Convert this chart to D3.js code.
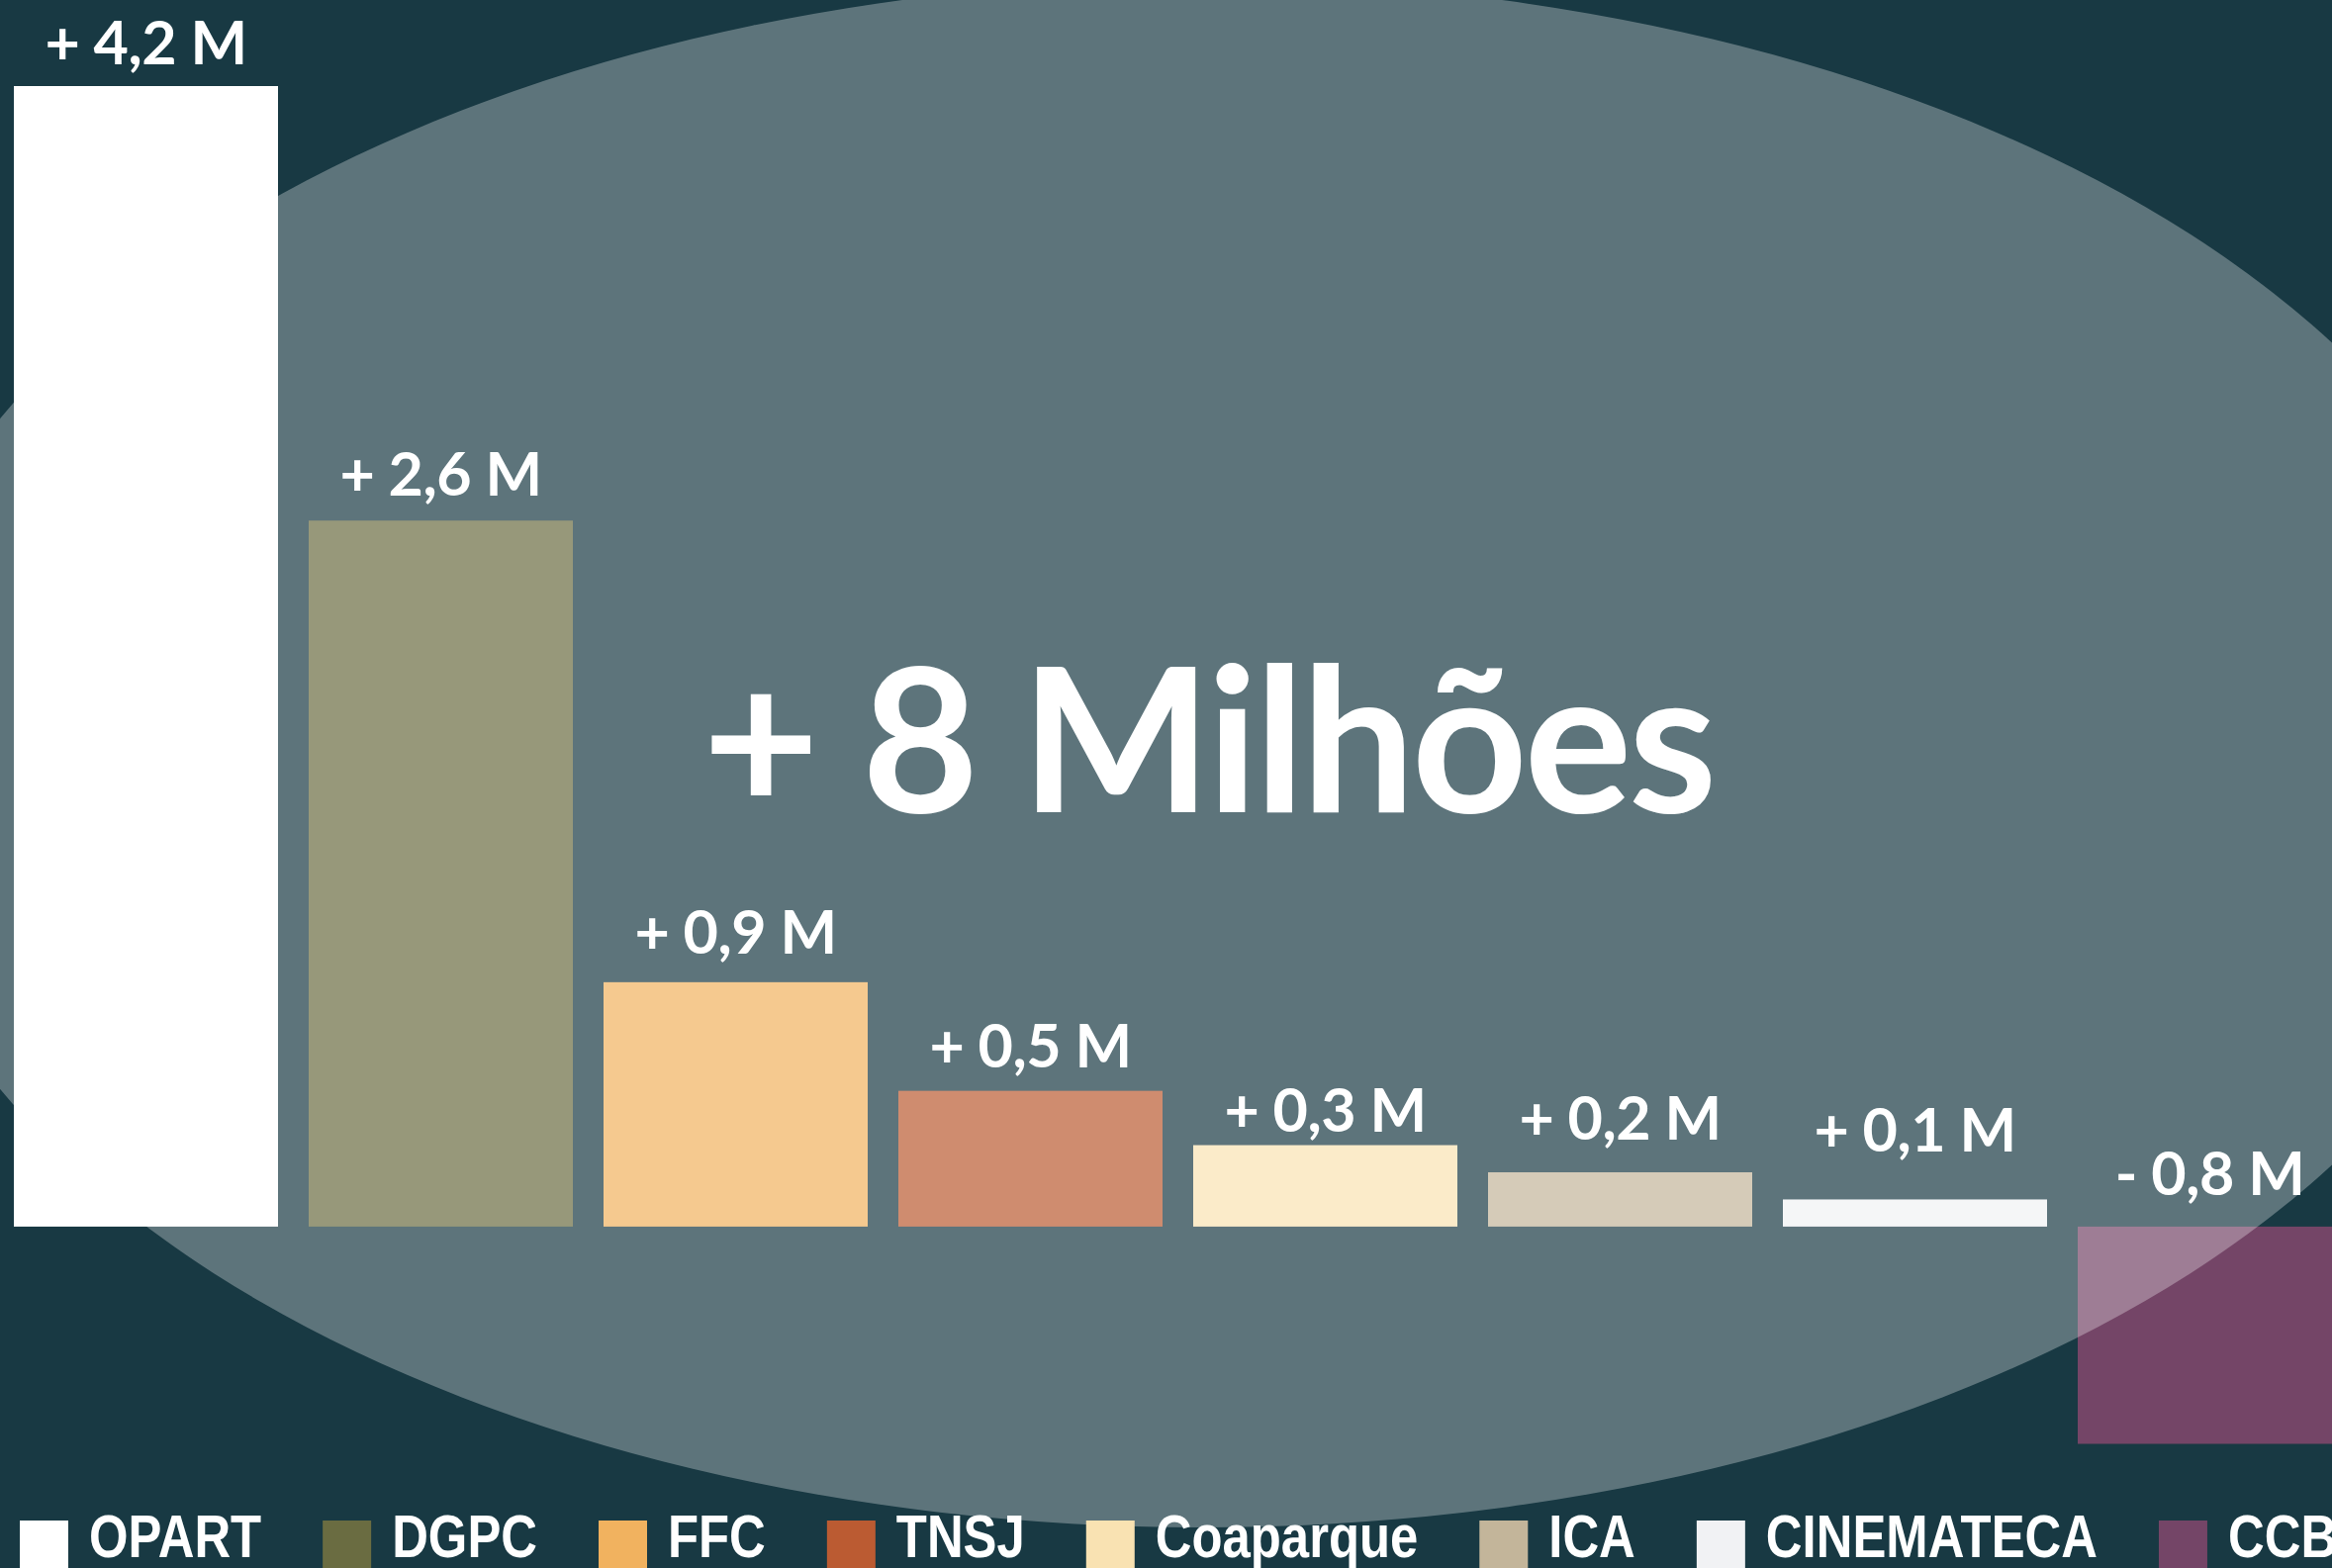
<!DOCTYPE html>
<html>
<head>
<meta charset="utf-8">
<script src="https://cdn.jsdelivr.net/npm/d3@7"></script>
<style>
  body { margin: 0; background: #183943; overflow: hidden; }
  .label { font-family: Lato, sans-serif; font-weight: 700; fill: #ffffff; }
  .legend text { font-family: "Liberation Sans", Arial, sans-serif; font-weight: 700; fill: #ffffff; }
</style>
</head>
<body>
<script>
// entities and variation (millions)
var entities = ["OPART", "DGPC", "FFC", "TNSJ", "Coaparque", "ICA", "CINEMATECA", "CCB"];
var values = [4.2, 2.6, 0.9, 0.5, 0.3, 0.2, 0.1, -0.8];
var colors = ["#ffffff", "#6a6c41", "#f1b25f", "#bb5b32", "#f9e2b2", "#c3b59a", "#f1f2f4", "#744567"];
var totalSuffix = "Milhões";

// label lift above each bar (px), placed by hand in the original
var labelGap = [22, 25, 29, 24, 14, 33, 48, 32];

var width = 2357, height = 1585;

var svg = d3.select("body")
            .append("svg")
            .attr("width", width)
            .attr("height", height);

svg.append("rect")
   .attr("width", width)
   .attr("height", height)
   .attr("fill", "#183943");

// scales
var xScale = d3.scaleBand()
               .domain(entities)
               .range([14, 2367])
               .paddingInner(0.104)
               .paddingOuter(0);

var yScale = d3.scaleLinear()
               .domain([-0.8, 4.2])
               .range([1459.5, 87]);

var data = entities.map(function(d, i) {
  return {name: d, value: values[i], color: colors[i], gap: labelGap[i]};
});

// bars
svg.selectAll("rect.bar")
   .data(data)
   .enter()
   .append("rect")
   .attr("class", "bar")
   .attr("x", function(d) { return xScale(d.name); })
   .attr("width", xScale.bandwidth())
   .attr("y", function(d) { return yScale(Math.max(0, d.value)); })
   .attr("height", function(d) { return Math.abs(yScale(d.value) - yScale(0)); })
   .attr("fill", function(d) { return d.color; });

// big translucent ellipse on top of the bars
var cx = 1215, cy = 762;
svg.append("ellipse")
   .attr("cx", cx)
   .attr("cy", cy)
   .attr("rx", 1348)
   .attr("ry", 782)
   .attr("fill", "#ffffff")
   .attr("fill-opacity", 0.3);

// value labels
var pt = d3.formatLocale({decimal: ",", thousands: ".", grouping: [3], currency: ["", ""]});
var fmt = pt.format(".1f");

svg.selectAll("text.label")
   .data(data)
   .enter()
   .append("text")
   .attr("class", "label")
   .attr("x", function(d) { return xScale(d.name) + xScale.bandwidth() / 2; })
   .attr("y", function(d) { return yScale(Math.max(0, d.value)) - d.gap; })
   .attr("text-anchor", "middle")
   .style("font-size", "61px")
   .style("letter-spacing", "-0.5px")
   .text(function(d) { return (d.value < 0 ? "- " : "+ ") + fmt(Math.abs(d.value)) + " M"; });

// total
var total = Math.round(d3.sum(values));
svg.append("text")
   .attr("class", "label")
   .attr("x", cx + 6)
   .attr("y", 821)
   .attr("text-anchor", "middle")
   .style("font-size", "204px")
   .style("letter-spacing", "-3.5px")
   .text("+ " + total + " " + totalSuffix);

// legend (narrowed sans)
var legend = svg.append("g").attr("class", "legend");
var lx = 20, swatch = 49, squeeze = 0.82;
data.forEach(function(d) {
  legend.append("rect")
        .attr("x", lx)
        .attr("y", 1537)
        .attr("width", swatch)
        .attr("height", swatch)
        .attr("fill", d.color);
  var tx = lx + swatch + 21;
  var t = legend.append("text")
        .attr("x", 0)
        .attr("y", 0)
        .attr("transform", "translate(" + tx + ",1574) scale(" + squeeze + ",1)")
        .style("font-size", "62px")
        .text(d.name);
  lx = tx + t.node().getComputedTextLength() * squeeze + 62;
});
</script>
</body>
</html>
